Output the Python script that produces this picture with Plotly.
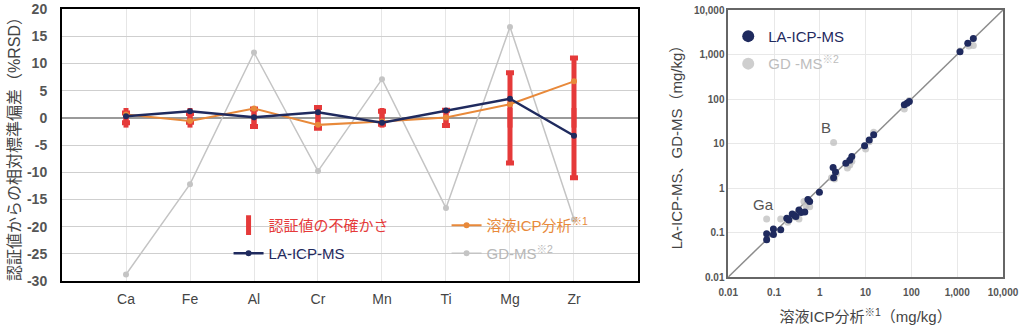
import plotly.graph_objects as go

# ---------------- Left chart data ----------------
elements = ["Ca", "Fe", "Al", "Cr", "Mn", "Ti", "Mg", "Zr"]
cert_uncert = [0.9, 0.8, 1.6, 1.9, 1.2, 1.4, 8.3, 11.0]
la_icp_ms_rsd = [0.3, 1.2, 0.1, 1.0, -0.9, 1.35, 3.5, -3.3]
icp_solution_rsd = [0.6, -0.6, 1.7, -1.3, -0.7, 0.05, 2.5, 6.7]
gd_ms_rsd = [-28.8, -12.2, 12.0, -9.8, 7.1, -16.6, 16.7, -18.7]
zero_line = [0, 0, 0, 0, 0, 0, 0, 0]
left_yticks = [20, 15, 10, 5, 0, -5, -10, -15, -20, -25, -30]
left_yticktext = ["<b>%d</b>" % v for v in left_yticks]

# ---------------- Right chart data ----------------
la_x = [0.069, 0.069, 0.097, 0.097, 0.14, 0.19, 0.21, 0.25, 0.28, 0.30, 0.35, 0.39, 0.47,
        0.55, 0.6, 0.98, 1.95, 2.0, 2.2, 3.7, 4.5, 5.0, 9.5, 12, 15, 70, 80, 90, 1150, 1700, 2250]
la_y = [0.094, 0.069, 0.12, 0.09, 0.116, 0.21, 0.19, 0.26, 0.24, 0.23, 0.32, 0.28, 0.29,
        0.55, 0.5, 0.8, 2.9, 1.7, 2.3, 3.6, 4.2, 5.1, 8.9, 12, 15.7, 74, 80, 88, 1150, 1780, 2290]
gd_x = [0.069, 0.14, 0.2, 0.22, 0.3, 0.35, 0.45, 0.5, 0.55, 0.6, 1.8, 2.0, 2.1, 2.3, 4.0,
        4.5, 5.0, 10, 12, 15, 70, 85, 90, 1150, 1800, 2250]
gd_y = [0.2, 0.2, 0.17, 0.2, 0.22, 0.2, 0.5, 0.4, 0.55, 0.38, 1.7, 10.5, 1.6, 2.1, 2.8,
        3.3, 4.0, 7.5, 11, 18, 60, 85, 92, 1200, 1550, 1600]
diag = [0.01, 10000]
log_ticks = [0.01, 0.1, 1, 10, 100, 1000, 10000]
log_ticktext = ["<b>0.01</b>", "<b>0.1</b>", "<b>1</b>", "<b>10</b>", "<b>100</b>", "<b>1,000</b>", "<b>10,000</b>"]

RED = "#e53a3a"
ORANGE = "#e8893a"
NAVY = "#1f2a5e"
GRAY = "#c4c4c4"
FONT = "Arial, 'Liberation Sans', 'Noto Sans CJK JP', sans-serif"

fig = go.Figure()

# GD-MS line (drawn first, behind)
fig.add_trace(go.Scatter(
    x=elements, y=gd_ms_rsd, mode="lines+markers", name="<span style='color:#b8b8b8'>GD-MS<sup>※2</sup></span>",
    line=dict(color=GRAY, width=1.5), marker=dict(color=GRAY, size=6),
    legend="legend2", legendrank=2, xaxis="x", yaxis="y"))

# certified value uncertainty
fig.add_trace(go.Scatter(
    x=elements, y=zero_line, mode="markers", name="<span style='color:#e53a3a'>認証値の不確かさ</span>",
    marker=dict(symbol="line-ns", size=14, color=RED, line=dict(color=RED, width=5)),
    error_y=dict(type="data", array=cert_uncert, color=RED, thickness=5, width=4),
    legend="legend", legendrank=1, xaxis="x", yaxis="y"))

# solution ICP
fig.add_trace(go.Scatter(
    x=elements, y=icp_solution_rsd, mode="lines+markers", name="<span style='color:#e8893a'>溶液ICP分析<sup>※1</sup></span>",
    line=dict(color=ORANGE, width=2), marker=dict(color=ORANGE, size=6),
    legend="legend", legendrank=2, xaxis="x", yaxis="y"))

# LA-ICP-MS
fig.add_trace(go.Scatter(
    x=elements, y=la_icp_ms_rsd, mode="lines+markers", name="<span style='color:#1f2a5e'>LA-ICP-MS</span>",
    line=dict(color=NAVY, width=2.5), marker=dict(color=NAVY, size=6),
    legend="legend2", legendrank=1, xaxis="x", yaxis="y"))

# ---------------- Right chart ----------------
fig.add_trace(go.Scatter(
    x=diag, y=diag, mode="lines", line=dict(color="#8c8c8c", width=1.5),
    showlegend=False, hoverinfo="skip", xaxis="x2", yaxis="y2"))
fig.add_trace(go.Scatter(
    x=gd_x, y=gd_y, mode="markers", name="<span style='color:#bdbdbd'>GD -MS<sup>※2</sup></span>",
    marker=dict(color="rgba(190,190,190,0.75)", size=7),
    legend="legend3", legendrank=2, legendgroup="g2", xaxis="x2", yaxis="y2"))
fig.add_trace(go.Scatter(
    x=la_x, y=la_y, mode="markers", name="<span style='color:#1f2a5e'>LA-ICP-MS</span>",
    marker=dict(color=NAVY, size=7),
    legend="legend3", legendrank=1, legendgroup="g1", xaxis="x2", yaxis="y2"))

fig.update_layout(
    width=1024, height=331,
    margin=dict(l=62, r=21, t=9, b=50),
    paper_bgcolor="white", plot_bgcolor="white",
    font=dict(family=FONT, color="#444"),
    xaxis=dict(
        domain=[0, 0.6121], type="category", range=[-1, 8], automargin=False,
        showgrid=True, gridcolor="#e6e6e6", gridwidth=1,
        showline=True, mirror=True, linecolor="black", linewidth=2,
        ticks="", tickfont=dict(size=14, color="#444"), ticklabelstandoff=4,
    ),
    yaxis=dict(
        domain=[0, 1], range=[-30, 20], tickvals=left_yticks, ticktext=left_yticktext,
        automargin=False,
        showgrid=True, gridcolor="#cfcfcf", gridwidth=1,
        zeroline=True, zerolinecolor="#9a9a9a", zerolinewidth=1.5,
        showline=True, mirror=True, linecolor="black", linewidth=2,
        ticks="", tickfont=dict(size=14, color="#555"), ticklabelstandoff=10,
        title=dict(text="認証値からの相対標準偏差（%RSD）", font=dict(size=16, color="#444"), standoff=2),
    ),
    xaxis2=dict(
        domain=[0.708, 1], type="log", range=[-2, 4], anchor="y2", automargin=False,
        tickvals=log_ticks, ticktext=log_ticktext,
        showgrid=True, gridcolor="#e8e8e8",
        showline=True, mirror=True, linecolor="#666", linewidth=1.5,
        ticks="", tickfont=dict(size=10, color="#555"), ticklabelstandoff=5,
        title=dict(text="溶液ICP分析<sup>※1</sup>（mg/kg）", font=dict(size=15, color="#444"), standoff=15),
    ),
    yaxis2=dict(
        domain=[0.0147, 0.9963], type="log", range=[-2, 4], anchor="x2", automargin=False,
        tickvals=log_ticks, ticktext=log_ticktext,
        showgrid=True, gridcolor="#e8e8e8",
        showline=True, mirror=True, linecolor="#666", linewidth=1.5,
        ticks="", tickfont=dict(size=10, color="#555"),
        title=dict(text="LA-ICP-MS、GD-MS（mg/kg）", font=dict(size=15, color="#444"), standoff=8),
    ),
    legend=dict(
        orientation="h", x=0.177, xanchor="left", y=0.265, yanchor="top",
        bgcolor="rgba(0,0,0,0)", font=dict(size=15), entrywidth=173, traceorder="normal",
    ),
    legend2=dict(
        orientation="h", x=0.177, xanchor="left", y=0.162, yanchor="top",
        bgcolor="rgba(0,0,0,0)", font=dict(size=15), entrywidth=173, traceorder="normal",
    ),
    legend3=dict(
        orientation="v", x=0.708, xanchor="left", y=0.96, yanchor="top",
        bgcolor="rgba(0,0,0,0)", font=dict(size=15), itemsizing="constant",
        traceorder="grouped", tracegroupgap=5,
    ),
    annotations=[
        dict(text="B", x=0.136, y=1.35, xref="x2", yref="y2", showarrow=False,
             font=dict(size=15, color="#555")),
        dict(text="Ga", x=-1.24, y=-0.375, xref="x2", yref="y2", showarrow=False,
             font=dict(size=15, color="#555")),
    ],
)

fig.write_html("out.html")
